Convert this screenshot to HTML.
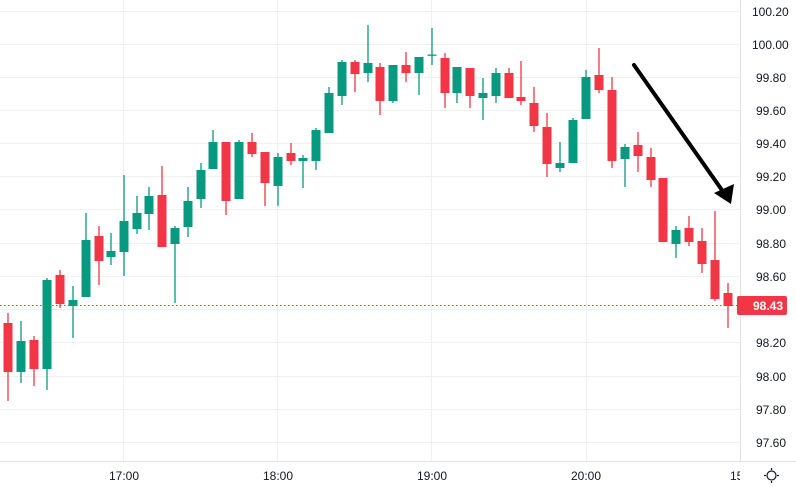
<!DOCTYPE html>
<html><head><meta charset="utf-8"><style>
html,body{margin:0;padding:0;background:#fff;width:796px;height:487px;overflow:hidden}
svg{display:block}
text{font-family:"Liberation Sans",sans-serif;font-size:12px;fill:#131722}
</style></head><body>
<svg width="796" height="487" viewBox="0 0 796 487" xmlns="http://www.w3.org/2000/svg">
<g stroke="#f0f0f0" stroke-width="1">
<line x1="0" y1="11.5" x2="740" y2="11.5"/><line x1="0" y1="44.5" x2="740" y2="44.5"/>
<line x1="0" y1="77.5" x2="740" y2="77.5"/><line x1="0" y1="110.5" x2="740" y2="110.5"/>
<line x1="0" y1="143.5" x2="740" y2="143.5"/><line x1="0" y1="176.5" x2="740" y2="176.5"/>
<line x1="0" y1="209.5" x2="740" y2="209.5"/><line x1="0" y1="243.5" x2="740" y2="243.5"/>
<line x1="0" y1="276.5" x2="740" y2="276.5"/><line x1="0" y1="309.5" x2="740" y2="309.5"/>
<line x1="0" y1="342.5" x2="740" y2="342.5"/><line x1="0" y1="376.5" x2="740" y2="376.5"/>
<line x1="0" y1="409.5" x2="740" y2="409.5"/><line x1="0" y1="442.5" x2="740" y2="442.5"/>
<line x1="123.5" y1="0" x2="123.5" y2="461"/><line x1="277.5" y1="0" x2="277.5" y2="461"/>
<line x1="431.5" y1="0" x2="431.5" y2="461"/><line x1="586.5" y1="0" x2="586.5" y2="461"/>
</g>
<line x1="740.5" y1="0" x2="740.5" y2="487" stroke="#e0e3eb"/>
<line x1="0" y1="461.5" x2="796" y2="461.5" stroke="#e0e3eb"/>
<g id="c"></g>
<line x1="0" y1="305.5" x2="740" y2="305.5" stroke="#f23645" stroke-dasharray="1.5,2.5"/>
<line x1="634" y1="65" x2="724" y2="193" stroke="#000" stroke-width="4" stroke-linecap="round"/>
<polygon points="731,204 714,193 734,184" fill="#000"/>
<g>
<text x="752" y="16">100.20</text><text x="752" y="49">100.00</text>
<text x="756" y="82">99.80</text><text x="756" y="115">99.60</text>
<text x="756" y="148">99.40</text><text x="756" y="181">99.20</text>
<text x="756" y="214">99.00</text><text x="756" y="248">98.80</text>
<text x="756" y="281">98.60</text><text x="756" y="347">98.20</text>
<text x="756" y="381">98.00</text><text x="756" y="414">97.80</text>
<text x="756" y="447">97.60</text>
</g>
<rect x="737" y="296" width="50" height="19" rx="2" fill="#f23645"/>
<text x="753" y="310" style="fill:#fff;font-weight:bold">98.43</text>
<text x="109" y="480">17:00</text><text x="263" y="480">18:00</text>
<text x="417" y="480">19:00</text><text x="571" y="480">20:00</text>
<text x="730" y="480">15</text>
<rect x="740" y="462" width="56" height="25" fill="#fff"/>
<g stroke="#131722" stroke-width="1.2" fill="none">
<circle cx="771.5" cy="475.5" r="4.5"/>
<line x1="771.5" y1="468" x2="771.5" y2="470"/><line x1="771.5" y1="481" x2="771.5" y2="483"/>
<line x1="764" y1="475.5" x2="766" y2="475.5"/><line x1="777" y1="475.5" x2="779" y2="475.5"/>
</g>
</svg>
<script>
var d=[
[8,0,323,372,313,401],[21,1,341,372,321,383],[34,0,340,369,336,386],[47,1,280,369,278,390],
[60,0,275,304,270,308],[73,1,300,306,286,338],[86,1,240,297,213,297],[99,0,236,261,226,285],
[111,1,251,257,233,265],[124,1,221,252,175,276],[137,1,213,229,196,234],[149,1,196,214,187,230],
[162,0,195,247,166,247],[175,1,228,244,226,303],[188,1,201,227,187,237],[201,1,170,199,163,208],
[213,1,142,169,130,169],[226,0,142,201,142,215],[239,1,142,199,140,199],[252,0,142,154,133,157],
[265,0,152,183,152,206],[278,1,157,186,153,206],[291,0,153,161,143,165],[303,1,158,161,155,188],
[316,1,130,161,128,170],[329,1,93,133,87,133],[342,1,62,96,60,105],[355,0,62,74,60,92],
[368,1,63,73,25,82],[380,0,67,101,63,115],[393,1,65,101,65,103],[406,0,65,73,52,82],
[419,1,57,73,57,95],[432,1,54.5,55.5,28,65],[445,0,58,93,53,108],[457,1,67,93,67,103],
[470,0,68,96,68,108],[483,1,93,98,78,120],[496,1,73,96,68,103],[509,0,73,98,68,98],
[521,0,97,101,61,105],[534,0,103,126,87,132],[547,0,127,164,113,177],[560,1,163,168,142,172],
[573,1,120,163,118,163],[586,1,77,119,70,119],[599,0,75,90,48,93],[612,0,90,161,77,168],
[625,1,147,159,144,187],[638,0,145,156,132,172],[651,0,157,180,148,187],[663,0,178,242,178,242],
[676,1,230,244,226,258],[689,0,228,242,216,246],[702,0,241,264,228,273],[715,0,260,299,211,301],
[728,0,293,306,283,328]];
var g=document.getElementById('c'),s='';
d.forEach(function(c){var col=c[1]?'#089981':'#f23645';
s+='<line x1="'+c[0]+'" x2="'+c[0]+'" y1="'+c[4]+'" y2="'+c[5]+'" stroke="'+col+'" stroke-width="1.3"/>';
var h=Math.max(c[3]-c[2],1.3);
s+='<rect x="'+(c[0]-4.5)+'" y="'+c[2]+'" width="9" height="'+h+'" fill="'+col+'"/>';});
g.innerHTML=s;
</script>
</body></html>
